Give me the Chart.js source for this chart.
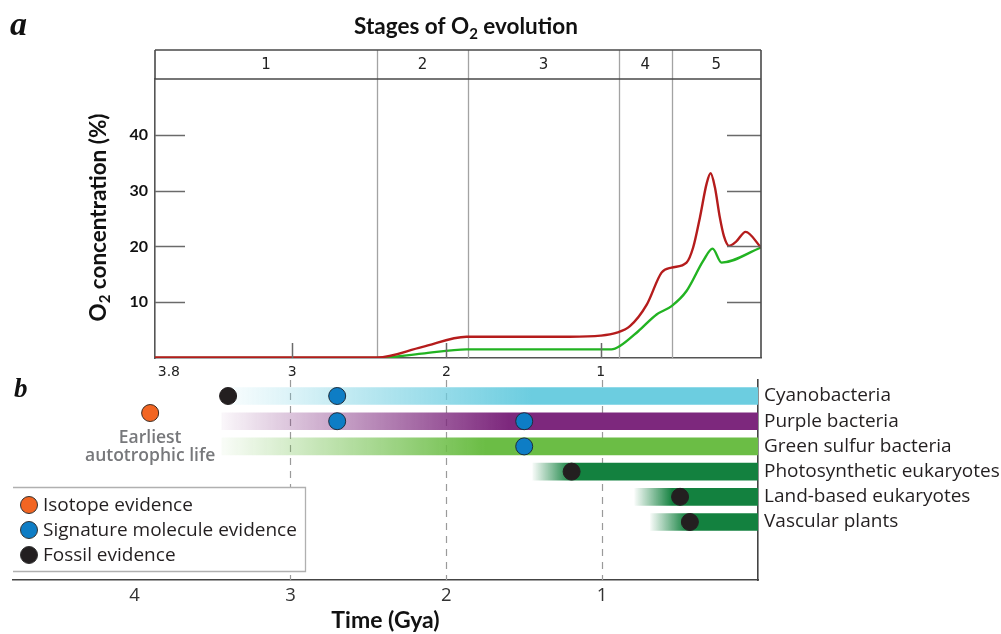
<!DOCTYPE html>
<html>
<head>
<meta charset="utf-8">
<script src="https://cdn.jsdelivr.net/npm/chart.js@4.4.0/dist/chart.umd.min.js"></script>
<style>
  html, body { margin: 0; padding: 0; background: #fff; }
  #wrap { position: relative; width: 1001px; height: 634px; }
  #wrap canvas { position: absolute; left: 0; top: 0; }
</style>
</head>
<body>
<div id="wrap">
  <canvas id="o2" width="1001" height="634"></canvas>
  <canvas id="life" width="1001" height="634"></canvas>
</div>
<script>
// ---- Panel a: atmospheric O2 through time (time in Gya, O2 in %) ----
const stageEdges = [2.45, 1.86, 0.88, 0.54];
const stageNames = ['1', '2', '3', '4', '5'];
const topTimeTicks = [3.8, 3, 2, 1];
const topTimeLabels = ['3.8', '3', '2', '1'];
const o2Ticks = [10, 20, 30, 40];

// upper estimate (red)
const upperTime = [3.89, 2.45, 2.16, 1.87, 1.2, 1.0, 0.9, 0.81, 0.70, 0.605, 0.54, 0.443, 0.40, 0.356, 0.313, 0.287, 0.259, 0.227, 0.20, 0.168, 0.12, 0.06, -0.04];
const upperO2 = [0.1, 0.1, 1.95, 3.8, 3.8, 4.0, 4.5, 5.7, 9.6, 15.3, 16.2, 17.1, 19.8, 25.2, 31.2, 33.1, 30.6, 25.2, 21.8, 20.1, 20.9, 22.6, 19.8];

// lower estimate (green)
const lowerTime = [3.89, 2.45, 2.16, 1.87, 0.93, 0.875, 0.756, 0.637, 0.54, 0.443, 0.335, 0.274, 0.216, -0.04];
const lowerO2 = [0, 0, 0.78, 1.55, 1.55, 2.15, 4.8, 7.8, 9.3, 12.0, 17.4, 19.6, 17.1, 19.8];

// ---- Panel b: photosynthetic lineages ----
const lineages = ['Cyanobacteria', 'Purple bacteria', 'Green sulfur bacteria', 'Photosynthetic eukaryotes', 'Land-based eukaryotes', 'Vascular plants'];
const lineageStart = [3.41, 3.44, 3.44, 1.445, 0.79, 0.69];
const lineageSolidFrom = [1.45, 1.6, 1.75, 1.2, 0.55, 0.46];
const lineageColors = ['#6ccde0', '#7d287d', '#6bbd45', '#13813f', '#13813f', '#13813f'];

const evidenceTypes = ['Isotope evidence', 'Signature molecule evidence', 'Fossil evidence'];
const evidenceColors = ['#f26522', '#0e7dc5', '#231f20'];
const isotopeTime = [3.9];
const isotopeRow = [0.675];
const signatureTime = [2.70, 2.70, 1.50, 1.50];
const signatureRow = [0, 1, 1, 2];
const fossilTime = [3.40, 1.196, 0.50, 0.437];
const fossilRow = [0, 3, 4, 5];
const bottomTimeTicks = [4, 3, 2, 1];

// ---- helpers ----
function pts(xs, ys) { return xs.map((x, i) => ({ x: x, y: ys[i] })); }
function rgba(hex, a) {
  const n = parseInt(hex.slice(1), 16);
  return 'rgba(' + (n >> 16 & 255) + ',' + (n >> 8 & 255) + ',' + (n & 255) + ',' + a + ')';
}
// text with a subscript part, centred on x
function drawRich(ctx, parts, x, y, font, subFont, subShift) {
  let w = 0;
  parts.forEach(p => { ctx.font = p.sub ? subFont : font; w += ctx.measureText(p.t).width; });
  let cx = x - w / 2;
  ctx.textAlign = 'left';
  ctx.textBaseline = 'alphabetic';
  parts.forEach(p => {
    ctx.font = p.sub ? subFont : font;
    ctx.fillText(p.t, cx, y + (p.sub ? subShift : 0));
    cx += ctx.measureText(p.t).width;
  });
}

Chart.defaults.devicePixelRatio = 1;

// stage bar, inner tick marks, titles of panel a
const o2Decor = {
  id: 'o2Decor',
  beforeDatasetsDraw(chart) {
    const { ctx, chartArea: a, scales: { x } } = chart;
    ctx.save();
    ctx.strokeStyle = '#a3a3a3';
    ctx.lineWidth = 1.3;
    stageEdges.forEach(t => {
      const px = Math.round(x.getPixelForValue(t)) + 0.5;
      ctx.beginPath(); ctx.moveTo(px, a.top - 29); ctx.lineTo(px, a.bottom); ctx.stroke();
    });
    ctx.restore();
  },
  afterDraw(chart) {
    const { ctx, chartArea: a, scales: { x, y } } = chart;
    ctx.save();
    // inner tick marks
    ctx.strokeStyle = '#6a6a6a';
    ctx.lineWidth = 1.5;
    o2Ticks.forEach(v => {
      const py = Math.round(y.getPixelForValue(v)) + 0.5;
      ctx.beginPath(); ctx.moveTo(a.left, py); ctx.lineTo(a.left + 30, py); ctx.stroke();
      ctx.beginPath(); ctx.moveTo(a.right - 34, py); ctx.lineTo(a.right, py); ctx.stroke();
    });
    [3, 2, 1].forEach(t => {
      const px = Math.round(x.getPixelForValue(t)) + 0.5;
      ctx.beginPath(); ctx.moveTo(px, a.bottom); ctx.lineTo(px, a.bottom - 15); ctx.stroke();
    });
    // stage bar
    const top = a.top - 29;
    ctx.strokeStyle = '#4a4a4a';
    ctx.lineWidth = 1.6;
    ctx.beginPath();
    ctx.moveTo(a.left, top); ctx.lineTo(a.right, top);
    ctx.moveTo(a.left, a.top); ctx.lineTo(a.right, a.top);
    ctx.moveTo(a.left, top); ctx.lineTo(a.left, a.top);
    ctx.moveTo(a.right, top); ctx.lineTo(a.right, a.bottom);
    ctx.stroke();
    const edges = [x.max].concat(stageEdges, [x.min]);
    ctx.fillStyle = '#222';
    ctx.font = '15px "DejaVu Sans"';
    ctx.textAlign = 'center';
    ctx.textBaseline = 'middle';
    stageNames.forEach((s, i) => {
      const cx = (x.getPixelForValue(edges[i]) + x.getPixelForValue(edges[i + 1])) / 2;
      ctx.fillText(s, cx, top + 15);
    });
    // chart title
    ctx.fillStyle = '#111';
    drawRich(ctx, [{ t: 'Stages of O' }, { t: '2', sub: true }, { t: ' evolution' }],
      (a.left + a.right) / 2 + 8, 34, 'bold 22.5px Lato', 'bold 15px Lato', 5);
    // y axis title
    ctx.save();
    ctx.translate(106, (a.top + a.bottom) / 2 - 1);
    ctx.rotate(-Math.PI / 2);
    drawRich(ctx, [{ t: 'O' }, { t: '2', sub: true }, { t: ' concentration (%)' }],
      0, 0, 'bold 22.5px Lato', 'bold 15px Lato', 4);
    ctx.restore();
    // panel letter
    ctx.font = 'italic bold 34px "Liberation Serif"';
    ctx.textAlign = 'left';
    ctx.textBaseline = 'alphabetic';
    ctx.fillStyle = '#111';
    ctx.fillText('a', 10, 35);
    ctx.restore();
  }
};

new Chart(document.getElementById('o2'), {
  type: 'line',
  data: {
    datasets: [
      { label: 'Upper estimate', data: pts(upperTime, upperO2), borderColor: '#b51c1c', borderWidth: 2.4,
        pointRadius: 0, cubicInterpolationMode: 'monotone', order: 0 },
      { label: 'Lower estimate', data: pts(lowerTime, lowerO2), borderColor: '#22b322', borderWidth: 2.4,
        pointRadius: 0, cubicInterpolationMode: 'monotone', order: 1 }
    ]
  },
  options: {
    responsive: false,
    animation: false,
    layout: { padding: { left: 0, top: 79, right: 240, bottom: 246 } },
    plugins: { legend: { display: false }, tooltip: { enabled: false } },
    scales: {
      x: {
        type: 'linear', reverse: true, min: -0.04, max: 3.89, offset: false,
        afterFit(s) { s.height = 30; },
        afterBuildTicks(s) { s.ticks = topTimeTicks.map(v => ({ value: v })); },
        ticks: {
          autoSkip: false, maxRotation: 0, padding: 6, color: '#222',
          font: { family: 'DejaVu Sans', size: 14 },
          callback: (v, i) => topTimeLabels[i]
        },
        grid: { display: false, drawTicks: false },
        border: { display: true, color: '#555', width: 1.6 }
      },
      y: {
        type: 'linear', min: 0, max: 50,
        afterFit(s) { s.width = 155; },
        afterBuildTicks(s) { s.ticks = o2Ticks.map(v => ({ value: v })); },
        ticks: { padding: 7, color: '#111', font: { family: 'Lato', weight: 'bold', size: 16 } },
        grid: { display: false, drawTicks: false },
        border: { display: true, color: '#555', width: 1.6 }
      }
    }
  },
  plugins: [o2Decor]
});

// dashed time guides, legend box and labels of panel b
const lifeDecor = {
  id: 'lifeDecor',
  beforeDatasetsDraw(chart) {
    const { ctx, chartArea: a, scales: { x } } = chart;
    ctx.save();
    ctx.strokeStyle = '#9a9a9a';
    ctx.lineWidth = 1.2;
    ctx.setLineDash([7, 6]);
    [3, 2, 1].forEach(t => {
      const px = Math.round(x.getPixelForValue(t)) + 0.5;
      ctx.beginPath(); ctx.moveTo(px, a.top); ctx.lineTo(px, a.bottom); ctx.stroke();
    });
    ctx.restore();
  },
  afterDraw(chart) {
    const { ctx, chartArea: a, scales: { x, y } } = chart;
    ctx.save();
    // text under the isotope point
    const ox = x.getPixelForValue(isotopeTime[0]);
    const oy = y.getPixelForValue(isotopeRow[0]);
    ctx.fillStyle = '#77787b';
    ctx.font = '600 17.5px "Open Sans"';
    ctx.textAlign = 'center';
    ctx.textBaseline = 'alphabetic';
    ctx.fillText('Earliest', ox, oy + 30);
    ctx.fillText('autotrophic life', ox, oy + 48);
    // legend
    const lx0 = a.left, lx1 = 305, ly0 = 487, ly1 = 571;
    ctx.fillStyle = '#fff';
    ctx.fillRect(lx0, ly0, lx1 - lx0, ly1 - ly0);
    ctx.strokeStyle = '#b0b0b0';
    ctx.lineWidth = 1.3;
    ctx.beginPath();
    ctx.moveTo(lx0, ly0 + 0.5); ctx.lineTo(lx1 + 0.5, ly0 + 0.5); ctx.lineTo(lx1 + 0.5, ly1 + 0.5); ctx.lineTo(lx0, ly1 + 0.5);
    ctx.stroke();
    evidenceTypes.forEach((name, i) => {
      const cy = 505 + i * 25;
      ctx.beginPath();
      ctx.arc(29, cy, 8.5, 0, Math.PI * 2);
      ctx.fillStyle = evidenceColors[i];
      ctx.fill();
      ctx.strokeStyle = '#333';
      ctx.lineWidth = 1;
      ctx.stroke();
      ctx.fillStyle = '#231f20';
      ctx.font = '19px "Open Sans"';
      ctx.textAlign = 'left';
      ctx.textBaseline = 'middle';
      ctx.fillText(name, 43, cy + 1);
    });
    // panel letter
    ctx.font = 'italic bold 27px "Liberation Serif"';
    ctx.fillStyle = '#111';
    ctx.textAlign = 'left';
    ctx.textBaseline = 'alphabetic';
    ctx.fillText('b', 14, 397);
    ctx.restore();
  }
};

function lineageFill(c) {
  const chart = c.chart;
  const i = c.dataIndex;
  if (!chart.chartArea || i === undefined) return lineageColors[i || 0];
  const xs = chart.scales.x;
  const x0 = xs.getPixelForValue(lineageStart[i]);
  const x1 = xs.getPixelForValue(lineageSolidFrom[i]);
  const g = chart.ctx.createLinearGradient(x0, 0, x1, 0);
  g.addColorStop(0, rgba(lineageColors[i], 0.04));
  g.addColorStop(1, rgba(lineageColors[i], 1));
  return g;
}

new Chart(document.getElementById('life'), {
  type: 'bar',
  data: {
    datasets: [
      { type: 'scatter', label: evidenceTypes[0], data: pts(isotopeTime, isotopeRow),
        pointRadius: 8.5, backgroundColor: evidenceColors[0], borderColor: '#3b2a20', borderWidth: 1, order: 0 },
      { type: 'scatter', label: evidenceTypes[1], data: pts(signatureTime, signatureRow),
        pointRadius: 8.5, backgroundColor: evidenceColors[1], borderColor: '#1d2d3d', borderWidth: 1, order: 0 },
      { type: 'scatter', label: evidenceTypes[2], data: pts(fossilTime, fossilRow),
        pointRadius: 8.5, backgroundColor: evidenceColors[2], borderColor: '#231f20', borderWidth: 1, order: 0 },
      { type: 'bar', label: 'Lineage range', data: lineageStart.map((s, i) => ({ x: [s, 0], y: i })),
        backgroundColor: lineageFill, borderWidth: 0, barThickness: 17, order: 5 }
    ]
  },
  options: {
    indexAxis: 'y',
    responsive: false,
    animation: false,
    layout: { padding: { left: 13, top: 380, right: 0, bottom: 0 } },
    plugins: { legend: { display: false }, tooltip: { enabled: false } },
    scales: {
      x: {
        type: 'linear', reverse: true, min: 0, max: 4.78, offset: false,
        afterFit(s) { s.height = 54; },
        afterBuildTicks(s) { s.ticks = bottomTimeTicks.map(v => ({ value: v })); },
        ticks: { autoSkip: false, maxRotation: 0, padding: 5, color: '#333', font: { family: 'Open Sans', size: 18.5 } },
        grid: { display: false, drawTicks: false },
        border: { display: true, color: '#444', width: 1.6 },
        title: { display: true, text: 'Time (Gya)', color: '#111', padding: { top: 0, bottom: 0 },
                 font: { family: 'Lato', weight: 'bold', size: 23 } }
      },
      y: {
        type: 'linear', position: 'right', reverse: true, min: -0.635, max: 7.3, offset: false,
        afterFit(s) { s.width = 243; },
        afterBuildTicks(s) { s.ticks = lineages.map((_, i) => ({ value: i })); },
        ticks: { autoSkip: false, padding: 6, color: '#231f20', font: { family: 'Open Sans', size: 19 },
                 callback: (v) => lineages[v] },
        grid: { display: false, drawTicks: false },
        border: { display: true, color: '#444', width: 1.6 }
      }
    }
  },
  plugins: [lifeDecor]
});
</script>
</body>
</html>
